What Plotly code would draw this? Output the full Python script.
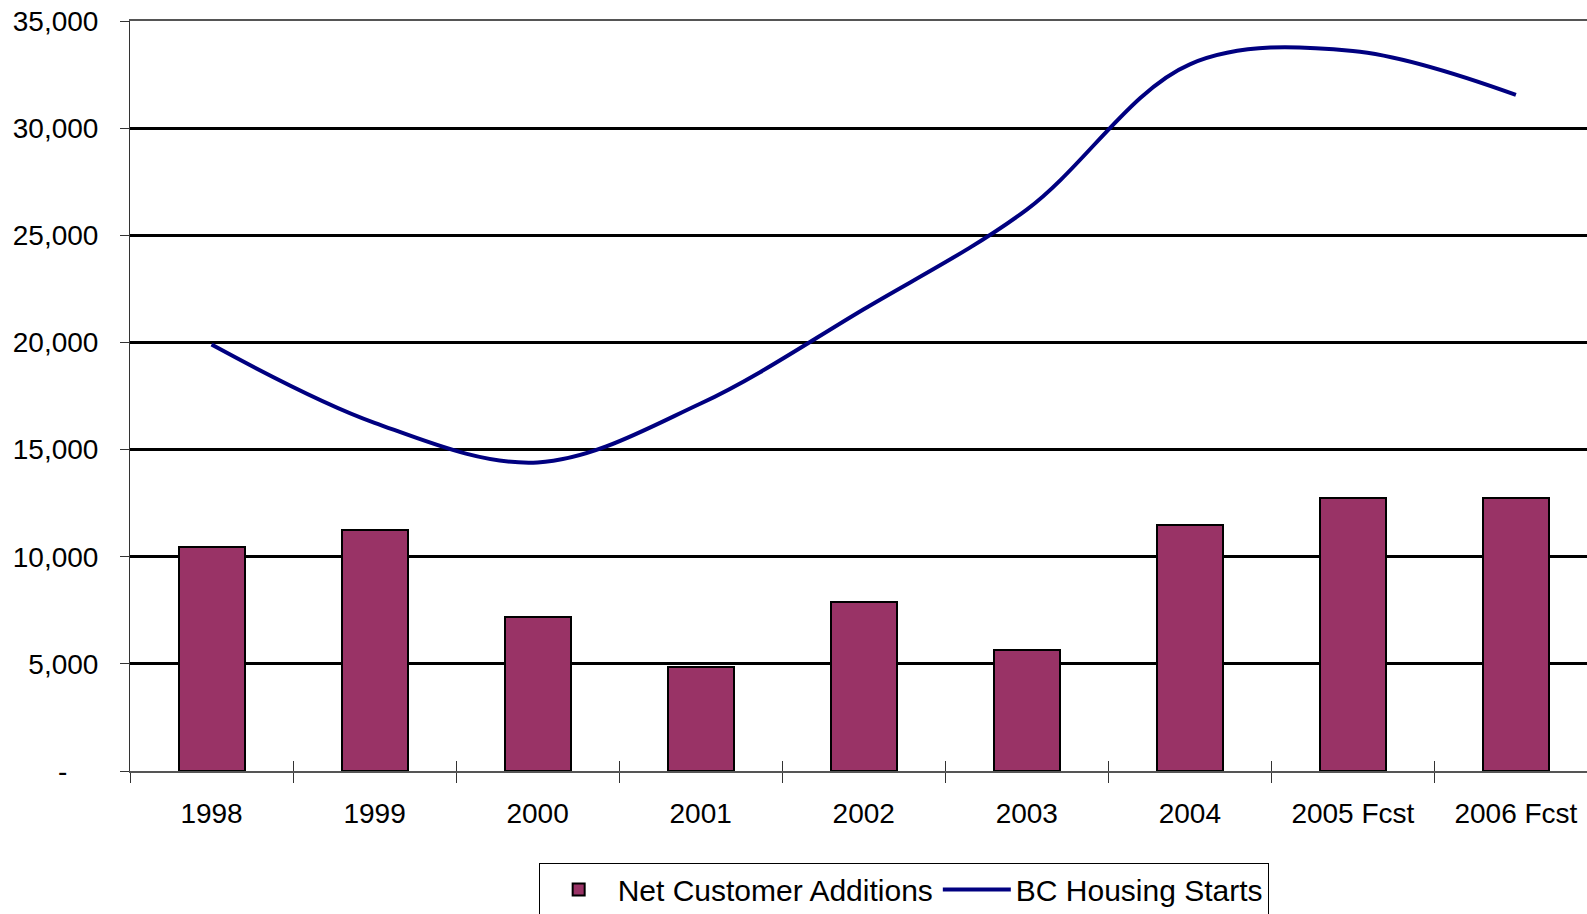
import plotly.graph_objects as go

# Years on the category axis
categories = ["1998", "1999", "2000", "2001", "2002", "2003", "2004", "2005 Fcst", "2006 Fcst"]

# Net customer additions (bars)
net_customer_additions = [10450, 11250, 7210, 4850, 7870, 5640, 11470, 12750, 12750]

# BC housing starts (smoothed line)
bc_housing_starts = [19900, 16250, 14400, 17150, 21550, 26200, 32980, 33600, 31550]

# Y axis ticks; zero shown as a dash (accounting style)
y_tick_values = [0, 5000, 10000, 15000, 20000, 25000, 30000, 35000]
y_tick_text = ["-\u00a0\u00a0\u00a0\u00a0", "5,000", "10,000", "15,000", "20,000", "25,000", "30,000", "35,000"]

FONT = "Liberation Sans, Arial, sans-serif"

fig = go.Figure()

fig.add_trace(go.Bar(
    x=categories,
    y=net_customer_additions,
    name="Net Customer Additions",
    marker=dict(color="#993366", line=dict(color="#000000", width=2)),
    width=0.405,
    xaxis="x",
    yaxis="y",
))

fig.add_trace(go.Scatter(
    x=categories,
    y=bc_housing_starts,
    name="BC Housing Starts",
    mode="lines",
    line=dict(color="#000080", width=4, shape="spline", smoothing=1.0),
    xaxis="x2",
    yaxis="y",
))

fig.update_layout(
    width=1587,
    height=914,
    margin=dict(l=130, r=0, t=21, b=143, autoexpand=False),
    paper_bgcolor="#ffffff",
    plot_bgcolor="#ffffff",
    font=dict(family=FONT, size=28, color="#000000"),
    bargap=0,
    showlegend=True,
    legend=dict(
        orientation="h",
        x=0.531,
        xanchor="center",
        y=-0.122,
        yanchor="top",
        bordercolor="#000000",
        borderwidth=1,
        font=dict(family=FONT, size=30, color="#000000"),
        traceorder="normal",
        itemwidth=68,
    ),
    xaxis=dict(
        type="category",
        categoryorder="array",
        categoryarray=categories,
        range=[-0.5, 8.436],
        tickson="boundaries",
        ticks="outside",
        ticklen=10,
        tickwidth=1,
        tickcolor="#333333",
        showline=True,
        mirror=True,
        linecolor="#555555",
        linewidth=2,
        showgrid=False,
        zeroline=False,
        tickfont=dict(family=FONT, size=28, color="#000000"),
        ticklabelstandoff=16,
    ),
    xaxis2=dict(
        type="category",
        categoryorder="array",
        categoryarray=categories,
        overlaying="x",
        matches="x",
        side="bottom",
        anchor="y",
        tickson="boundaries",
        ticks="inside",
        ticklen=10,
        tickwidth=1,
        tickcolor="#333333",
        showticklabels=False,
        showline=False,
        showgrid=False,
        zeroline=False,
    ),
    yaxis=dict(
        range=[0, 35000],
        tickvals=y_tick_values,
        ticktext=y_tick_text,
        ticks="outside",
        ticklen=9,
        tickwidth=1,
        tickcolor="#333333",
        showline=True,
        linecolor="#333333",
        linewidth=1,
        showgrid=True,
        gridcolor="#000000",
        gridwidth=3,
        zeroline=False,
        tickfont=dict(family=FONT, size=28, color="#000000"),
        ticklabelstandoff=16,
    ),
)

fig.write_html("out.html")
